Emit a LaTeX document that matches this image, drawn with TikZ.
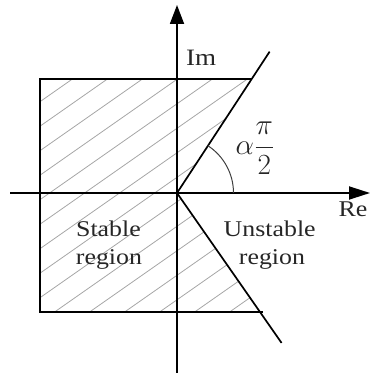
\RequirePackage{fix-cm}
\documentclass[tikz,border=0pt]{standalone}
\usepackage{fontspec}
\setmainfont[FakeStretch=1.15]{Liberation Serif}
\usetikzlibrary{arrows.meta,calc}
\begin{document}
\begin{tikzpicture}[x=1pt,y=1pt,
  axis/.style={line width=1.8pt,black},
  frame/.style={line width=1.8pt,black},
  ray/.style={line width=1.7pt,black},
  hatch/.style={line width=0.8pt,gray!70},
  anglearc/.style={line width=1pt,black!75},
  lbl/.style={inner sep=0pt,font=\fontsize{22.5}{27}\selectfont,text=black!85},
]
\useasboundingbox (0,0) rectangle (371,375);
\coordinate (O) at (177,182);
\coordinate (TL) at (40,296);
\coordinate (BL) at (40,63);
\coordinate (A) at (251.7,296);
\coordinate (B) at (260,63);
\coordinate (BR) at (263,63);
\coordinate (U) at ($(O)!1.24!(A)$);
\coordinate (L) at ($(O)!1.26!(B)$);
\coordinate (Ytop) at (177,370);
\coordinate (Ybot) at (177,2);
\coordinate (Xl) at (10,182);
\coordinate (Xr) at (370,182);
\begin{scope}
  \clip (TL) -- (A) -- (O) -- (B) -- (BL) -- cycle;
  \foreach \k in {-1,...,16} \draw[hatch] (30,{273.3-24.5*\k-7}) -- ++(280,196);
\end{scope}
\draw[frame] (A) -- (TL) -- (BL) -- (BR);
\draw[axis,-{Triangle[length=19pt,width=14pt]}] (Ybot) -- (Ytop);
\draw[axis,-{Triangle[length=21pt,width=13pt]}] (Xl) -- (Xr);
\draw[ray] (O) -- (U);
\draw[ray] (O) -- (L);
\draw[anglearc] ($(O)+(56.5,0)$) arc[start angle=0,end angle=56.8,radius=56.5];
\node[lbl,anchor=base west,font=\fontsize{23.5}{28}\selectfont] (im) at (186,309.3) {Im};
\node[lbl,anchor=base west] (re) at (338.3,158) {Re};
\node[lbl,anchor=base west] (ang) at (235.5,220.5) {\scalebox{1.3}{$\displaystyle\alpha\frac{\pi}{2}$}};
\node[lbl,anchor=base] (st1) at (108.5,138.3) {Stable};
\node[lbl,anchor=base] (st2) at (109,110) {region};
\node[lbl,anchor=base] (un1) at (269.7,138.3) {Unstable};
\node[lbl,anchor=base] (un2) at (272,110) {region};
\end{tikzpicture}
\end{document}
